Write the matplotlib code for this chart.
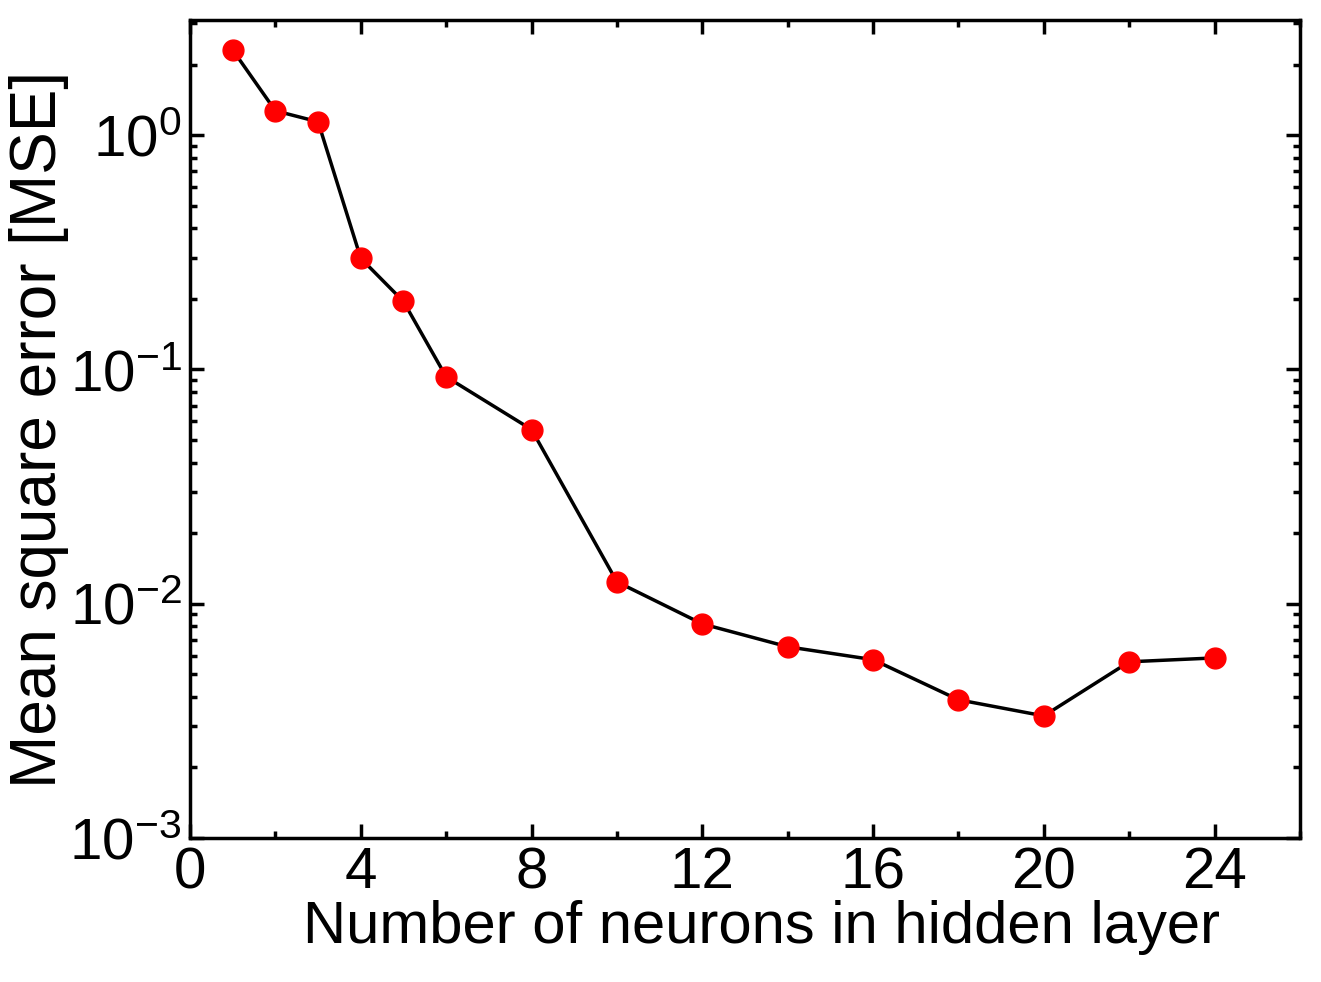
import matplotlib
matplotlib.use("Agg")
import matplotlib.pyplot as plt
from matplotlib.ticker import MultipleLocator, LogLocator, NullFormatter

neurons = [1, 2, 3, 4, 5, 6, 8, 10, 12, 14, 16, 18, 20, 22, 24]
mse = [2.31, 1.27, 1.14, 0.298, 0.195, 0.093, 0.0554, 0.0124, 0.0082,
       0.00655, 0.00577, 0.00389, 0.00332, 0.00565, 0.00587]

plt.rcParams["font.family"] = ["Liberation Sans", "DejaVu Sans"]
plt.rcParams["axes.unicode_minus"] = False

fig = plt.figure(figsize=(13.21, 9.82), dpi=100)
ax = fig.add_axes([190 / 1321, 1 - 838 / 982, 1110 / 1321, 818 / 982])
ax.plot(neurons, mse, color="black", lw=2.5, marker="o", ms=15,
        mfc="red", mec="red", zorder=3)
ax.set_yscale("log")
ax.set_xlim(0, 26)
ax.set_ylim(1e-3, 3.1)
ax.xaxis.set_major_locator(MultipleLocator(4))
ax.xaxis.set_minor_locator(MultipleLocator(2))
ax.yaxis.set_major_locator(LogLocator(base=10, numticks=10))
ax.yaxis.set_minor_locator(LogLocator(base=10, subs=range(2, 10), numticks=20))
ax.yaxis.set_minor_formatter(NullFormatter())
ax.tick_params(which="both", direction="in", top=True, right=True, width=2.5)
ax.tick_params(which="major", length=10, labelsize=42, pad=6)
ax.tick_params(which="minor", length=5)
for s in ax.spines.values():
    s.set_linewidth(2.5)
ax.set_xlabel("Number of neurons in hidden layer", fontsize=43, labelpad=0, x=0.515)
ax.set_ylabel("Mean square error [MSE]", fontsize=46, labelpad=0)
fig.savefig("out.png", dpi=100)
